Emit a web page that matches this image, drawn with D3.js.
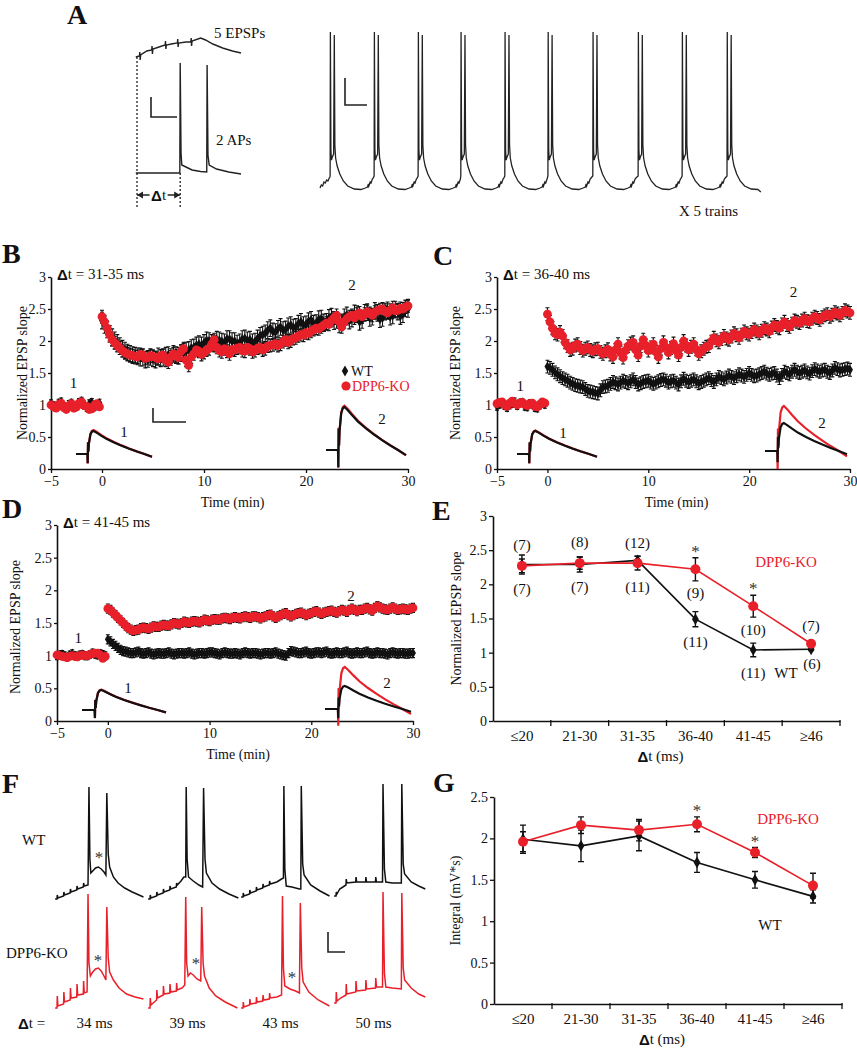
<!DOCTYPE html>
<html><head><meta charset="utf-8">
<script src="https://cdn.jsdelivr.net/npm/d3@7"></script>
<style>
body{margin:0;background:#fff}svg{display:block}
svg text{font-family:'Liberation Serif','DejaVu Serif',serif !important;}
svg text tspan.sym{font-family:'Liberation Sans','DejaVu Sans',sans-serif !important;font-weight:bold;}
</style>
</head><body>
<svg id="fig" width="857" height="1050"></svg>
<script>
// ================= DATA =================
const timeStep = 0.25;        // minutes between plotted samples
const baseStart = -5, postStart = 0;
const xTicksTime = [-5, 0, 10, 20, 30];
const yTicksSlope = [0, 0.5, 1, 1.5, 2, 2.5, 3];

// Panel B (Δt = 31-35 ms)
const B_wt_base = [1.02,0.99,0.97,1.03,1.05,0.98,0.95,1.01,1.03,0.96,0.98,1.04,1.06,1.00,0.96,1.02,1.04,0.97,0.99,1.03];
const B_ko_base = [1.00,0.97,0.95,1.01,1.03,0.96,0.93,0.99,1.02,0.95,0.97,1.03,1.05,0.99,0.98,0.93,0.94,1.00,1.02,0.97];
const B_wt_post = [2.32,2.25,2.18,2.11,2.06,2.01,1.97,1.92,1.88,1.85,
 1.82,1.80,1.78,1.77,1.76,1.74,1.74,1.71,1.72,1.75,
 1.73,1.71,1.76,1.73,1.74,1.77,1.78,1.75,1.80,1.78,
 1.77,1.81,1.83,1.85,1.86,1.89,1.90,1.93,1.95,1.93,
 1.97,2.01,2.00,1.97,1.96,2.02,2.01,1.99,1.98,2.03,
 2.03,2.00,2.00,1.96,1.98,2.03,2.04,2.01,2.02,1.98,
 1.99,2.04,2.08,2.10,2.12,2.17,2.20,2.15,2.14,2.19,
 2.22,2.17,2.18,2.23,2.25,2.21,2.22,2.27,2.30,2.25,
 2.26,2.31,2.33,2.27,2.28,2.34,2.35,2.29,2.30,2.36,
 2.38,2.31,2.33,2.26,2.29,2.37,2.40,2.32,2.35,2.43,
 2.42,2.30,2.33,2.44,2.45,2.36,2.38,2.47,2.44,2.34,
 2.36,2.46,2.48,2.38,2.40,2.49,2.46,2.39,2.42,2.51,2.50];
const B_ko_post = [2.38,2.30,2.20,2.10,2.02,1.97,1.93,1.89,1.85,1.82,
 1.80,1.78,1.77,1.76,1.75,1.79,1.78,1.73,1.74,1.77,
 1.76,1.74,1.72,1.77,1.78,1.70,1.67,1.75,1.80,1.77,
 1.74,1.84,1.88,1.70,1.62,1.75,1.80,1.86,1.84,1.79,
 1.82,1.86,1.88,1.95,2.02,1.90,1.85,1.83,1.88,1.84,
 1.80,1.87,1.86,1.89,1.90,1.85,1.84,1.90,1.88,1.83,
 1.85,1.89,1.90,1.86,1.88,1.92,1.93,1.94,1.96,1.93,
 1.95,1.99,2.02,1.98,2.00,2.04,2.05,2.08,2.10,2.09,
 2.13,2.12,2.15,2.18,2.20,2.19,2.22,2.25,2.28,2.26,
 2.32,2.36,2.40,2.30,2.22,2.30,2.35,2.38,2.40,2.36,
 2.42,2.44,2.38,2.42,2.46,2.43,2.40,2.45,2.47,2.49,
 2.50,2.46,2.44,2.48,2.52,2.47,2.48,2.51,2.50,2.53,2.55];
const B_sem = [0.13, 0.10];

// Panel C (Δt = 36-40 ms)
const C_wt_base = [0.98,1.01,1.03,0.99,0.96,1.00,1.02,1.05,0.99,1.03,1.04,0.98,0.97,1.02,1.01,0.96,0.95,1.00,1.03,1.01];
const C_ko_base = [1.02,1.04,1.05,1.00,0.98,1.03,1.06,1.02,1.00,1.03,1.04,1.01,0.99,1.02,1.03,0.98,0.97,1.01,1.05,1.03];
const C_wt_post = [1.60,1.58,1.55,1.51,1.48,1.45,1.42,1.40,1.38,1.35,
 1.33,1.31,1.30,1.29,1.28,1.25,1.22,1.21,1.20,1.19,
 1.18,1.23,1.28,1.29,1.30,1.33,1.36,1.34,1.32,1.35,
 1.38,1.36,1.34,1.37,1.40,1.36,1.32,1.34,1.36,1.37,
 1.38,1.35,1.33,1.35,1.37,1.39,1.40,1.38,1.35,1.37,
 1.38,1.35,1.32,1.37,1.41,1.38,1.36,1.38,1.40,1.37,
 1.34,1.36,1.38,1.40,1.42,1.39,1.36,1.40,1.44,1.42,
 1.40,1.43,1.46,1.44,1.42,1.45,1.48,1.46,1.44,1.47,
 1.50,1.47,1.45,1.46,1.48,1.50,1.52,1.49,1.47,1.49,
 1.50,1.46,1.42,1.47,1.52,1.50,1.48,1.52,1.55,1.52,
 1.50,1.52,1.54,1.51,1.49,1.53,1.56,1.54,1.52,1.54,
 1.55,1.52,1.50,1.54,1.58,1.56,1.54,1.55,1.56,1.57,1.55];
const C_ko_post = [2.42,2.30,2.20,2.12,2.10,2.14,2.08,1.98,1.92,1.86,
 1.88,1.93,1.95,1.89,1.85,1.88,1.90,1.86,1.84,1.87,
 1.88,1.83,1.80,1.84,1.87,1.79,1.75,1.86,1.95,1.82,
 1.74,1.85,1.92,1.96,1.98,1.86,1.78,1.92,2.02,1.93,
 1.85,1.90,1.95,1.83,1.75,1.88,1.98,1.90,1.82,1.89,
 1.96,1.85,1.78,1.90,2.00,1.93,1.86,1.91,1.95,1.87,
 1.80,1.84,1.88,1.91,1.92,1.99,2.05,2.01,1.98,2.03,
 2.08,2.04,2.02,2.07,2.12,2.09,2.05,2.10,2.15,2.12,
 2.10,2.14,2.18,2.15,2.12,2.16,2.20,2.18,2.15,2.21,
 2.25,2.22,2.20,2.26,2.30,2.25,2.22,2.27,2.32,2.30,
 2.28,2.32,2.35,2.31,2.30,2.35,2.38,2.36,2.33,2.37,
 2.40,2.42,2.38,2.41,2.45,2.43,2.40,2.44,2.48,2.46,2.44];
const C_sem = [0.10, 0.10];

// Panel D (Δt = 41-45 ms)
const D_wt_base = [1.00,1.01,1.02,1.00,0.98,1.01,1.03,1.00,0.99,1.01,1.02,1.00,1.00,1.02,1.04,1.02,1.01,1.03,1.02,1.00];
const D_ko_base = [1.01,1.00,0.99,0.98,0.97,0.99,1.00,0.99,0.98,1.00,1.01,1.00,1.00,1.02,1.03,1.04,1.04,1.01,0.96,0.99];
const D_wt_post = [1.25,1.22,1.18,1.15,1.12,1.09,1.07,1.06,1.05,1.04,
 1.04,1.05,1.06,1.04,1.03,1.04,1.05,1.03,1.02,1.03,
 1.04,1.03,1.03,1.04,1.05,1.03,1.02,1.03,1.04,1.04,
 1.03,1.04,1.05,1.03,1.02,1.03,1.04,1.04,1.03,1.04,
 1.05,1.05,1.04,1.03,1.02,1.04,1.05,1.04,1.03,1.03,
 1.04,1.03,1.02,1.04,1.05,1.04,1.03,1.04,1.04,1.03,
 1.02,1.03,1.04,1.04,1.03,1.04,1.05,1.03,1.02,1.01,
 1.00,1.04,1.07,1.06,1.05,1.04,1.04,1.05,1.06,1.04,
 1.03,1.04,1.05,1.05,1.04,1.05,1.06,1.04,1.03,1.04,
 1.05,1.04,1.04,1.05,1.06,1.04,1.03,1.04,1.05,1.04,
 1.04,1.05,1.06,1.04,1.03,1.04,1.05,1.04,1.04,1.03,
 1.02,1.04,1.05,1.04,1.03,1.04,1.04,1.03,1.03,1.04,1.04];
const D_ko_post = [1.72,1.70,1.66,1.62,1.58,1.54,1.50,1.46,1.42,1.40,
 1.38,1.39,1.40,1.42,1.43,1.42,1.41,1.43,1.45,1.44,
 1.44,1.46,1.47,1.46,1.46,1.48,1.50,1.49,1.48,1.50,
 1.52,1.51,1.50,1.52,1.53,1.52,1.51,1.53,1.55,1.54,
 1.53,1.55,1.56,1.55,1.55,1.57,1.58,1.57,1.56,1.58,
 1.59,1.58,1.57,1.59,1.60,1.59,1.58,1.60,1.60,1.59,
 1.57,1.59,1.60,1.62,1.63,1.60,1.58,1.60,1.62,1.64,
 1.65,1.62,1.60,1.62,1.64,1.65,1.66,1.64,1.62,1.64,
 1.65,1.67,1.68,1.66,1.64,1.66,1.67,1.68,1.69,1.67,
 1.66,1.68,1.70,1.69,1.67,1.70,1.72,1.70,1.68,1.70,
 1.70,1.72,1.73,1.71,1.69,1.73,1.76,1.74,1.72,1.71,
 1.70,1.72,1.74,1.72,1.70,1.71,1.72,1.71,1.70,1.72,1.73];
const D_sem = [0.07, 0.07];
const base_sem = 0.06;

// Inset EPSP waveform (time ms, normalized amplitude) and amplitudes [B1,B2,C1,C2,D1,D2]
const epspShape = [[0,0],[15,0],[15.4,-0.4],[15.8,0.5],[16.3,0.1],[17,0.45],[19,0.85],[21,0.97],[23,1.0],
 [27,0.93],[33,0.8],[40,0.66],[50,0.5],[60,0.36],[70,0.23],[80,0.11],[90,0.0],[100,-0.12]];
const insetAmpWT = [1.0, 1.0, 1.0, 0.62, 1.0, 0.55];
const insetAmpKO = [1.04, 1.03, 1.02, 1.0, 1.02, 1.0];

// Panels E & G
const deltaCats = ["≤20","21-30","31-35","36-40","41-45","≥46"];
const E_wt = [2.29, 2.29, 2.35, 1.49, 1.04, 1.05];
const E_wt_err = [0.14, 0.11, 0.06, 0.11, 0.10, 0.02];
const E_ko = [2.27, 2.31, 2.31, 2.22, 1.68, 1.13];
const E_ko_err = [0.10, 0.09, 0.10, 0.17, 0.16, 0.03];
const E_n_ko = ["(7)","(8)","(12)","(9)","(10)","(7)"];
const E_n_wt = ["(7)","(7)","(11)","(11)","(11)","(6)"];
const E_sig = [false, false, false, true, true, false];
const G_wt = [1.99, 1.91, 2.03, 1.71, 1.50, 1.30];
const G_wt_err = [0.17, 0.19, 0.18, 0.12, 0.10, 0.08];
const G_ko = [1.96, 2.16, 2.10, 2.17, 1.83, 1.43];
const G_ko_err = [0.12, 0.10, 0.13, 0.09, 0.06, 0.15];
const G_sig = [false, false, false, true, true, false];

// Panel A traces (ms, mV)
const A_epsp = [[-1,0],[2,1],[2.3,5],[2.6,-3],[3,2],[8,6],[12,7],[12.3,11],[12.6,3],[13,8],[18,10],[23,12],
 [23.3,16],[23.6,8],[24,12],[28,13],[33,14],[33.3,18],[33.6,10],[34,14],[40,15],[44,15],[44.3,19],[44.6,11],
 [45,16],[52,19],[56,17],[62,13],[70,9],[78,6],[85,4]];
const A_aps = [[-1,0],[35,0],[35.3,110],[36,20],[36.6,8],[40,6],[45,3],[52,1.5],[57,1],[57.3,108],[58,18],
 [59,8],[65,4],[75,1],[85,-1]];
const trainPrelude = [[0,2],[3,5],[6,4],[9,8],[12,7],[15,10],[18,9],[21,12],[22.5,13]];
const burstOnsets = [23, 123, 223, 320, 420, 518, 620, 723, 823, 925];
const burstShape = [[0,14],[0.6,158],[1.8,40],[3,30],[5,33],[8,36],[9.5,155],[10.8,45],[12.5,32],[16,24],
 [22,16],[30,9],[40,4],[55,1],[70,0.5],[80,2],[85,3],[87,6],[88,4],[91,8],[93,7],[96,11],[98,12]];
const trainEnd = 1002;

// Panel F sweeps (ms from first EPSP, mV above rest)
const F_dt = ["34 ms","39 ms","43 ms","50 ms"];
const F_wt = [
 [[-2,0],[0,0],[0.3,4],[1,1],[7,3],[7.3,7],[8,4],[14,6],[14.3,10],[15,7],[21,9],[21.3,13],[22,10],[28,12],[28.3,16],[29,13],[33,14],[34,112],[35,40],[36,26],[38,28],[41,31],[44,32],[47,30],[50,27],[52,24],[53,106],[54.5,45],[56,32],[60,22],[65,16],[72,11],[80,7],[92,2]],
 [[-2,0],[0,0],[0.3,4],[1,1],[7,3],[7.3,7],[8,4],[14,6],[14.3,10],[15,7],[21,9],[21.3,13],[22,10],[28,12],[28.3,16],[29,14],[33,18],[36,22],[38,22],[38.5,112],[39.5,40],[41,22],[46,18],[52,14],[56,12],[57,111],[58.5,40],[60,26],[66,16],[74,10],[84,5],[94,1]],
 [[-2,2],[0,2],[0.3,6],[1,3],[7,5],[7.3,9],[8,6],[14,8],[14.3,12],[15,9],[21,11],[21.3,15],[22,12],[28,14],[28.3,18],[29,15],[36,17],[41,20],[43,21],[43.5,113],[44.5,30],[46,13],[52,12],[60,10],[61.5,10],[62,113],[63.5,35],[65,24],[72,14],[82,8],[92,3]],
 [[-2,3],[0,3],[0.3,7],[1,5],[4,10],[10.6,14],[10.9,20],[11.5,16],[21,17],[21.3,22],[22,17],[31.5,17],[31.8,22],[32.5,17],[42,17],[42.3,22],[43,17],[49.5,17],[50,115],[51.5,30],[53,17],[60,16],[69.5,16],[70,115],[71.5,35],[73,25],[80,17],[88,13],[95,10]]
];
const F_ko = [
 [[-2,0],[0,0],[0.3,12],[1,2],[7,4],[7.3,16],[8,6],[14,8],[14.3,20],[15,10],[21,11],[21.3,24],[22,13],[28,14],[28.3,27],[29,15],[32,16],[33,114],[34,45],[35.5,32],[38,36],[41,39],[44,40],[47,37],[50,32],[52,28],[53,101],[54.5,50],[56,36],[60,28],[66,20],[74,14],[83,11],[92,9]],
 [[-2,0],[0,0],[0.3,10],[1,3],[7,8],[7.3,18],[8,10],[14,13],[14.3,22],[15,14],[21,15],[21.3,24],[22,16],[28,17],[28.3,25],[29,18],[34,20],[37,23],[38,111],[39,45],[40.5,32],[43,35],[46,33],[50,29],[54,27],[55,101],[56.5,45],[58,32],[63,20],[70,12],[80,6],[93,0]],
 [[-2,0],[0,0],[0.3,6],[1,1],[7,3],[7.3,9],[8,4],[14,5],[14.3,11],[15,6],[21,7],[21.3,13],[22,8],[28,9],[28.3,15],[29,10],[36,11],[41,13],[42,112],[43,40],[44.5,22],[50,19],[56,17],[60,15],[61,105],[62.5,40],[64,26],[70,16],[80,8],[92,2]],
 [[-2,5],[0,5],[0.3,16],[1,7],[5,10],[10.6,13],[10.9,24],[11.5,14],[21,16],[21.3,27],[22,17],[31.5,18],[31.8,28],[32.5,19],[42,20],[42.3,30],[43,21],[49.5,21],[50,116],[51.5,35],[53,21],[60,20],[69.5,19],[70,115],[71.5,40],[73,28],[80,20],[88,14],[95,11]]
];

// ================= DRAWING =================
const svg = d3.select("#fig");
const RED = "#e8202a";
svg.append("rect").attr("width",857).attr("height",1050).attr("fill","#fff");

function text(x, y, s, o = {}) {
  const t = svg.append("text").attr("x", x).attr("y", y).text(s)
    .attr("font-size", o.size || 15)
    .attr("fill", o.fill || "#111").attr("dominant-baseline", o.base || "central")
    .attr("text-anchor", o.anchor || "start");
  if (o.weight) t.attr("font-weight", o.weight);
  if (o.rotate) t.attr("transform", `rotate(-90,${x},${y})`);
  return t;
}
function deltaText(x, y, rest, size, anchor) {
  const t = svg.append("text").attr("x", x).attr("y", y)
    .attr("font-size", size).attr("fill", "#111").attr("dominant-baseline", "central")
    .attr("text-anchor", anchor || "start");
  t.append("tspan").attr("class", "sym").text("Δ");
  t.append("tspan").text(rest);
  return t;
}
function letter(x, y, s) { text(x, y, s, {size: 28, weight: "bold", base: "auto"}); }
function scaleBar(x, y1, y2, x2, w) {
  svg.append("path").attr("d", `M${x},${y1}V${y2}H${x2}`).attr("fill","none")
    .attr("stroke","#222").attr("stroke-width", w || 1.6);
}
function styleAxis(g, size) {
  g.selectAll("path.domain").attr("stroke","#111").attr("stroke-width",1.6);
  g.selectAll(".tick line").attr("stroke","#111").attr("stroke-width",1.3);
  g.selectAll("text").attr("font-size", size).attr("fill","#111");
}
const line = d3.line();

// ---------- Panel A ----------
letter(67, 24, "A");
{
  const x = d3.scaleLinear().domain([0, 85]).range([137, 241]);
  const yE = d3.scaleLinear().domain([0, 20]).range([57, 37]);
  const yA = d3.scaleLinear().domain([0, 110]).range([173, 63]);
  svg.append("path").attr("d", line(A_epsp.map(d => [x(d[0]), yE(d[1])])))
    .attr("fill","none").attr("stroke","#222").attr("stroke-width",1.4);
  svg.append("path").attr("d", line(A_aps.map(d => [x(d[0]), yA(d[1])])))
    .attr("fill","none").attr("stroke","#222").attr("stroke-width",1.4);
  svg.append("line").attr("x1",x(0)).attr("x2",x(0)).attr("y1",57).attr("y2",208)
    .attr("stroke","#222").attr("stroke-width",1.3).attr("stroke-dasharray","2,2");
  svg.append("line").attr("x1",x(35.3)).attr("x2",x(35.3)).attr("y1",173).attr("y2",208)
    .attr("stroke","#222").attr("stroke-width",1.3).attr("stroke-dasharray","2,2");
  const ax0 = x(0), ax1 = x(35.3), ay = 195;
  svg.append("line").attr("x1",ax0).attr("x2",ax1).attr("y1",ay).attr("y2",ay).attr("stroke","#222").attr("stroke-width",1.3);
  svg.append("path").attr("d",`M${ax0},${ay}l6,-3.5v7z M${ax1},${ay}l-6,-3.5v7z`).attr("fill","#222");
  svg.append("rect").attr("x",(ax0+ax1)/2-9).attr("y",ay-8).attr("width",18).attr("height",16).attr("fill","#fff");
  deltaText((ax0+ax1)/2, ay, "t", 15, "middle");
  scaleBar(151, 97, 117, 177);
  text(214, 33, "5 EPSPs", {size: 15});
  text(216, 140, "2 APs", {size: 15});

  const xt = d3.scaleLinear().domain([0, 1000]).range([320, 760]);
  const yt = d3.scaleLinear().domain([0, 160]).range([190, 30]);
  let pts = trainPrelude.slice();
  burstOnsets.forEach((on, i) => {
    const next = i < burstOnsets.length - 1 ? burstOnsets[i+1] : trainEnd;
    burstShape.forEach(d => { if (on + d[0] < next) pts.push([on + d[0], d[1]]); });
  });
  pts.push([trainEnd, -2]);
  svg.append("path").attr("d", line(pts.map(d => [xt(d[0]), yt(d[1])])))
    .attr("fill","none").attr("stroke","#222").attr("stroke-width",1.3);
  scaleBar(345, 78, 105, 367);
  text(679, 211, "X 5 trains", {size: 15});
}

// ---------- Panels B, C, D ----------
function series(base, post) {
  return base.map((v, i) => ({t: baseStart + i * timeStep, v, b: true}))
    .concat(post.map((v, i) => ({t: postStart + i * timeStep, v, b: false})));
}
function timecourse(L, wt, ko, sem, insetIdx) {
  const x = d3.scaleLinear().domain([-5, 30]).range([L.x0, L.x1]);
  const y = d3.scaleLinear().domain([0, 3]).range([L.yb, L.yt]);
  const ya = svg.append("g").attr("transform", `translate(${L.x0},0)`)
    .call(d3.axisLeft(y).tickValues(yTicksSlope).tickFormat(d => d).tickSize(3).tickSizeOuter(0).tickPadding(2));
  styleAxis(ya, 14);
  const xa = svg.append("g").attr("transform", `translate(0,${L.yb})`)
    .call(d3.axisBottom(x).tickValues(xTicksTime).tickSize(4).tickSizeOuter(0).tickPadding(3));
  styleAxis(xa, 14);
  text((L.x0 + L.x1) / 2 + 3, L.yb + 33, "Time (min)", {size: 14, anchor: "middle"});
  text(L.ylabX, (L.yb + L.yt) / 2 + L.ylabDy, "Normalized EPSP slope", {size: 14, anchor: "middle", rotate: true});
  deltaText(L.x0 + 6, L.yt - 3, L.title, 15);

  L.insets.forEach((ins, k) => {
    const idx = insetIdx[k];
    const xi = d3.scaleLinear().domain([0, 100]).range([ins.x0, ins.x1]);
    const yi = d3.scaleLinear().domain([0, 1]).range([ins.base, ins.base - ins.h]);
    [[insetAmpKO[idx], RED], [insetAmpWT[idx], "#111"]].forEach(([amp, col]) => {
      svg.append("path").attr("d", line(epspShape.map(d => [xi(d[0]), yi(d[1] * amp)])))
        .attr("fill","none").attr("stroke", col).attr("stroke-width", 2.2);
    });
    text(ins.lx, ins.ly, String(k + 1), {size: 15, anchor: "middle"});
  });
  L.marks.forEach((m, k) => text(x(m[0]), y(m[1]), String(k + 1), {size: 15, anchor: "middle"}));

  const W = series(wt[0], wt[1]), K = series(ko[0], ko[1]);
  function errBars(data, s) {
    const g = svg.append("g").attr("stroke", "#111").attr("stroke-width", 1.1);
    data.forEach(p => {
      const e = p.b ? base_sem : s;
      const xx = x(p.t), y1 = y(p.v + e), y2 = y(p.v - e);
      g.append("path").attr("d", `M${xx},${y1}V${y2}M${xx-2},${y1}H${xx+2}M${xx-2},${y2}H${xx+2}`);
    });
  }
  errBars(W, sem[0]);
  svg.append("g").selectAll("path").data(W).join("path")
    .attr("d", d3.symbol(d3.symbolDiamond, 30)())
    .attr("transform", d => `translate(${x(d.t)},${y(d.v)})`).attr("fill", "#111");
  errBars(K.filter(p => !p.b), sem[1]);
  svg.append("g").selectAll("circle").data(K).join("circle")
    .attr("cx", d => x(d.t)).attr("cy", d => y(d.v)).attr("r", 4.4).attr("fill", RED);
  return {x, y};
}

letter(2, 263, "B");
timecourse({x0: 51, x1: 408, yb: 469, yt: 277, ylabX: 22, ylabDy: 0, title: "t = 31-35 ms",
  insets: [{x0: 76, x1: 152, base: 454, h: 23, lx: 124, ly: 432}, {x0: 326, x1: 406, base: 450, h: 43, lx: 382, ly: 419}],
  marks: [[-2.8, 1.35], [24.5, 2.87]]},
  [B_wt_base, B_wt_post], [B_ko_base, B_ko_post], B_sem, [0, 1]);
svg.append("path").attr("d", d3.symbol(d3.symbolDiamond, 36)()).attr("transform","translate(345,371)").attr("fill","#111");
text(351, 371, "WT", {size: 14});
svg.append("circle").attr("cx",346).attr("cy",386).attr("r",4.6).attr("fill",RED);
text(352, 386, "DPP6-KO", {size: 14, fill: RED});
scaleBar(153, 408, 422, 186);

letter(433, 265, "C");
timecourse({x0: 497, x1: 850, yb: 469, yt: 277, ylabX: 455, ylabDy: 0, title: "t = 36-40 ms",
  insets: [{x0: 517, x1: 597, base: 454, h: 23, lx: 563, ly: 433}, {x0: 765, x1: 847, base: 451, h: 45, lx: 822, ly: 423}],
  marks: [[-2.7, 1.3], [24.4, 2.76]]},
  [C_wt_base, C_wt_post], [C_ko_base, C_ko_post], C_sem, [2, 3]);

letter(2, 518, "D");
timecourse({x0: 57, x1: 413, yb: 721, yt: 525, ylabX: 15, ylabDy: 4, title: "t = 41-45 ms",
  insets: [{x0: 82, x1: 166, base: 710, h: 20, lx: 128, ly: 688}, {x0: 325, x1: 411, base: 709, h: 42, lx: 387, ly: 683}],
  marks: [[-2.9, 1.27], [23.9, 1.92]]},
  [D_wt_base, D_wt_post], [D_ko_base, D_ko_post], D_sem, [4, 5]);

// ---------- Panels E and G ----------
function summary(L, wt, wtErr, ko, koErr, sig, yTicks, ylab) {
  const x = d3.scaleBand().domain(deltaCats).range([L.x0, L.x1]);
  const cx = c => x(c) + x.bandwidth() / 2;
  const y = d3.scaleLinear().domain([0, yTicks[yTicks.length - 1]]).range([L.yb, L.yt]);
  const ya = svg.append("g").attr("transform", `translate(${L.x0},0)`)
    .call(d3.axisLeft(y).tickValues(yTicks).tickFormat(d => d).tickSize(4).tickSizeOuter(0).tickPadding(2));
  styleAxis(ya, 14);
  const xa = svg.append("g").attr("transform", `translate(0,${L.yb})`)
    .call(d3.axisBottom(x).tickSize(0).tickSizeOuter(0).tickPadding(9));
  styleAxis(xa, 15);
  deltaCats.forEach(c => {
    const bx = x(c) + x.bandwidth();
    svg.append("line").attr("x1", bx).attr("x2", bx).attr("y1", L.yb - 1).attr("y2", L.yb + 5)
      .attr("stroke", "#111").attr("stroke-width", 1.3);
  });
  deltaText((L.x0 + L.x1) / 2 - 6, L.yb + 35, "t (ms)", 15, "middle");
  text(L.ylabX, (L.yb + L.yt) / 2, ylab, {size: 14, anchor: "middle", rotate: true});

  function draw(vals, errs, col, marker) {
    svg.append("path").attr("d", line(vals.map((v, i) => [cx(deltaCats[i]), y(v)])))
      .attr("fill", "none").attr("stroke", col).attr("stroke-width", 1.6);
    const g = svg.append("g").attr("stroke", "#111").attr("stroke-width", 1.4);
    vals.forEach((v, i) => {
      const xx = cx(deltaCats[i]), y1 = y(v + errs[i]), y2 = y(v - errs[i]);
      g.append("path").attr("d", `M${xx},${y1}V${y2}M${xx-3},${y1}H${xx+3}M${xx-3},${y2}H${xx+3}`);
    });
    vals.forEach((v, i) => {
      if (marker === "circle") svg.append("circle").attr("cx", cx(deltaCats[i])).attr("cy", y(v)).attr("r", 5).attr("fill", col);
      else svg.append("path").attr("d", d3.symbol(d3.symbolDiamond, 40)())
        .attr("transform", `translate(${cx(deltaCats[i])},${y(v)})`).attr("fill", col);
    });
  }
  draw(wt, wtErr, "#111", "diamond");
  draw(ko, koErr, RED, "circle");
  sig.forEach((s, i) => { if (s) text(cx(deltaCats[i]), y(ko[i] + koErr[i]) - 1, "*", {size: 17, anchor: "middle", base: "auto", fill: "#333"}); });
  return {x, y, cx};
}

letter(432, 520, "E");
{
  const E = summary({x0: 493, x1: 840, yb: 721, yt: 516, ylabX: 456}, E_wt, E_wt_err, E_ko, E_ko_err, E_sig,
    [0, 0.5, 1, 1.5, 2, 2.5, 3], "Normalized EPSP slope");
  const above = [[0, E_n_ko[0], -21], [1, E_n_ko[1], -21], [2, E_n_ko[2], -20], [5, E_n_ko[5], -18]];
  const below = [[0, E_n_wt[0], 23, E_ko], [1, E_n_wt[1], 24, E_ko], [2, E_n_wt[2], 24, E_ko],
    [3, E_n_ko[3], 24, E_ko], [3, E_n_wt[3], 23, E_wt], [4, E_n_ko[4], 24, E_ko], [4, E_n_wt[4], 23, E_wt], [5, E_n_wt[5], 15, E_wt]];
  above.forEach(a => text(E.cx(deltaCats[a[0]]), E.y(E_ko[a[0]]) + a[2], a[1], {size: 15, anchor: "middle"}));
  below.forEach(b => text(E.cx(deltaCats[b[0]]) + (b[0] === 5 ? 1 : 0), E.y(b[3][b[0]]) + b[2], b[1], {size: 15, anchor: "middle"}));
  text(786, 562, "DPP6-KO", {size: 15, anchor: "middle", fill: RED});
  text(786, 673, "WT", {size: 15, anchor: "middle"});
}

letter(433, 792, "G");
{
  summary({x0: 494, x1: 842, yb: 1004, yt: 797, ylabX: 455}, G_wt, G_wt_err, G_ko, G_ko_err, G_sig,
    [0, 0.5, 1, 1.5, 2, 2.5], "Integral (mV*s)");
  text(788, 819, "DPP6-KO", {size: 15, anchor: "middle", fill: RED});
  text(770, 925, "WT", {size: 15, anchor: "middle"});
}

// ---------- Panel F ----------
letter(2, 793, "F");
{
  const origins = [57, 150, 243, 336];
  const yW = d3.scaleLinear().domain([0, 100]).range([899, 799]);
  const yK = d3.scaleLinear().domain([0, 100]).range([1008, 908]);
  origins.forEach((o, i) => {
    const xs = d3.scaleLinear().domain([0, 100]).range([o, o + 94]);
    svg.append("path").attr("d", line(F_wt[i].map(d => [xs(d[0]), yW(d[1])])))
      .attr("fill","none").attr("stroke","#111").attr("stroke-width",1.5);
    svg.append("path").attr("d", line(F_ko[i].map(d => [xs(d[0]), yK(d[1])])))
      .attr("fill","none").attr("stroke",RED).attr("stroke-width",1.5);
    text(xs(40), 1023, F_dt[i], {size: 15, anchor: "middle"});
  });
  text(22, 840, "WT", {size: 15});
  text(6, 953, "DPP6-KO", {size: 15});
  deltaText(18, 1023, "t =", 15);
  [[99, 857], [98, 960], [196, 963], [292, 977]].forEach(p => text(p[0], p[1] + 6, "*", {size: 17, anchor: "middle", base: "auto", fill: "#333"}));
  scaleBar(328, 932, 952, 345);
}
</script>
</body></html>
